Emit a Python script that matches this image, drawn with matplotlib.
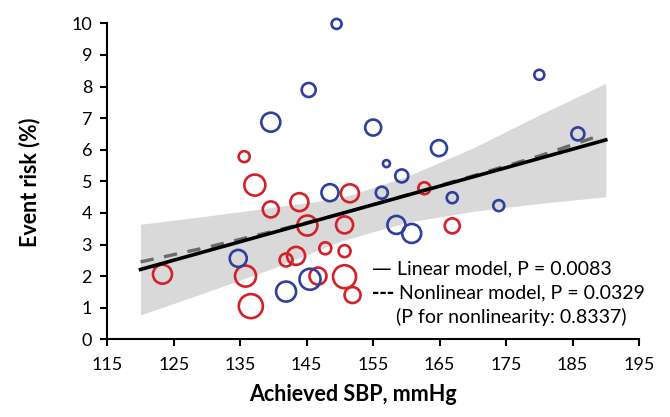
import matplotlib
matplotlib.use("Agg")
import matplotlib.pyplot as plt
import numpy as np

# ---------------- data ----------------
blue_x = [149.5, 145.3, 139.6, 155.0, 180.0, 185.8, 164.9, 157.0, 159.3, 156.3,
          148.5, 166.9, 173.9, 158.5, 160.8, 134.7, 141.9, 145.5]
blue_y = [9.98, 7.89, 6.87, 6.70, 8.37, 6.50, 6.05, 5.56, 5.17, 4.64,
          4.64, 4.48, 4.23, 3.62, 3.35, 2.56, 1.51, 1.90]
blue_r = [5, 7, 9.5, 8, 5, 6.5, 8, 3.5, 6.5, 6,
          8.5, 5.5, 5.5, 9, 9.5, 8.5, 10, 10.5]

red_x = [135.6, 137.2, 139.6, 143.9, 145.1, 143.4, 141.9, 147.8, 146.7, 135.8,
         136.6, 123.3, 151.5, 150.7, 150.7, 150.7, 151.9, 162.7, 166.9]
red_y = [5.78, 4.88, 4.11, 4.34, 3.60, 2.64, 2.51, 2.88, 2.00, 2.00,
         1.05, 2.06, 4.62, 3.62, 2.79, 1.98, 1.40, 4.78, 3.59]
red_r = [5.5, 10.5, 8, 9, 10, 9, 6.5, 6, 8.5, 10.5,
         12, 9.5, 9, 8.5, 6, 11.5, 8, 6, 7.5]

linear_x = [120, 190]
linear_y = [2.21, 6.31]

nonlin_x = [120, 130, 140, 150, 160, 170, 180, 189]
nonlin_y = [2.45, 2.91, 3.42, 3.96, 4.56, 5.17, 5.80, 6.44]

band_x = [120, 130, 140, 150, 160, 170, 180, 190]
band_upper = [3.64, 3.90, 4.18, 4.46, 5.15, 6.05, 7.10, 8.10]
band_lower = [0.77, 1.50, 2.25, 3.10, 3.70, 4.05, 4.30, 4.51]

x_ticks = [115, 125, 135, 145, 155, 165, 175, 185, 195]
y_ticks = list(range(0, 11))

legend_marks = ["\u2014", "---", ""]
legend_lines = ["Linear model, P = 0.0083",
                "Nonlinear model, P = 0.0329",
                "(P for nonlinearity: 0.8337)"]

# ---------------- plot ----------------
plt.rcParams['font.family'] = ['Lato', 'DejaVu Sans']
W, H, DPI = 670, 417, 100
fig = plt.figure(figsize=(W / DPI, H / DPI), dpi=DPI)
ax = fig.add_axes([107.3 / W, 1 - 339.3 / H, (639 - 107.3) / W, (339.3 - 23.3) / H])

ax.fill_between(band_x, band_lower, band_upper, color='#d9d9d9', lw=0, zorder=1)

px2pt = 72 / DPI
def sizes(r):
    return [(2 * ri * px2pt) ** 2 for ri in r]

ax.scatter(red_x, red_y, s=sizes(red_r), facecolors='none', edgecolors='#d42027',
           linewidths=1.9, zorder=3, clip_on=False)
ax.scatter(blue_x, blue_y, s=sizes(blue_r), facecolors='none', edgecolors='#2e3f9e',
           linewidths=1.9, zorder=3, clip_on=False)

ax.plot(nonlin_x, nonlin_y, color='#6a6a6a', lw=2.4, dashes=(4, 3.2), zorder=4,
        solid_capstyle='butt')
ax.plot(linear_x, linear_y, color='black', lw=2.6, zorder=5)

ax.set_xlim(115, 195)
ax.set_ylim(0, 10)
ax.set_xticks(x_ticks)
ax.set_yticks(y_ticks)
for s in ['top', 'right']:
    ax.spines[s].set_visible(False)
for s in ['left', 'bottom']:
    ax.spines[s].set_linewidth(1.5)
ax.tick_params(axis='both', direction='out', length=5, width=1.5, labelsize=13,
               colors='black')
ax.tick_params(axis='x', pad=8)
ax.tick_params(axis='y', pad=6)

ax.set_xlabel("Achieved SBP, mmHg", fontsize=15.5, fontweight='bold')
ax.xaxis.set_label_coords((353 - 107.3) / 531.7, -(384 - 339.3) / 316.0)
ax.set_ylabel("Event risk (%)", fontsize=15.5, fontweight='bold')
ax.yaxis.set_label_coords(-(107.3 - 40) / 531.7, (339.3 - 182) / 316.0)

ys = [2.22, 1.47, 0.71]
mark_x = 154.8
text_x = [158.6, 158.9, 158.4]
for m, t, xx, yy in zip(legend_marks, legend_lines, text_x, ys):
    if m:
        ax.text(mark_x, yy, m, fontsize=14 if m == "\u2014" else 12.5,
                va='center', ha='left', zorder=6, family=['DejaVu Sans'],
                fontweight='normal' if m == "\u2014" else 'bold')
    ax.text(xx, yy, t, fontsize=14, va='center', ha='left', zorder=6)

fig.savefig("out.png", dpi=DPI)
